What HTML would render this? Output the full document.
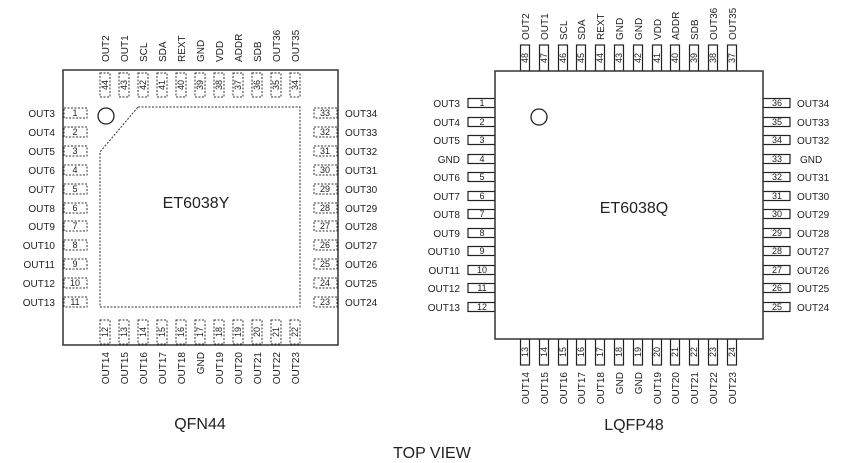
<!DOCTYPE html>
<html><head><meta charset="utf-8"><style>
html,body{margin:0;padding:0;background:#fff;}
svg{display:block;font-family:"Liberation Sans",Arial,sans-serif;}
.l{font-size:10px;fill:#222;}
.n{font-size:9px;fill:#222;}
.d{fill:none;stroke:#333;stroke-width:1;stroke-dasharray:2,1.5;}
.s{fill:#fff;stroke:#222;stroke-width:1.2;}
</style></head><body>
<svg width="854" height="463" viewBox="0 0 854 463" xmlns="http://www.w3.org/2000/svg">
<!-- QFN44 -->
<rect x="63" y="70" width="275" height="275" fill="#fff" stroke="#333" stroke-width="1.5"/>
<path class="d" d="M138 107 L300 107 L300 307 L100 307 L100 152 Z"/>
<circle cx="106" cy="116" r="8" fill="none" stroke="#222" stroke-width="1.3"/>
<text x="196" y="208" font-size="16" text-anchor="middle" fill="#222">ET6038Y</text>
<g class="l" text-anchor="end">
<text x="55" y="117">OUT3</text><text x="55" y="136">OUT4</text><text x="55" y="155">OUT5</text><text x="55" y="174">OUT6</text><text x="55" y="193">OUT7</text><text x="55" y="212">OUT8</text><text x="55" y="230">OUT9</text><text x="55" y="249">OUT10</text><text x="55" y="268">OUT11</text><text x="55" y="287">OUT12</text><text x="55" y="306">OUT13</text>
</g>
<g class="d">
<rect x="64" y="108" width="23" height="10"/><rect x="64" y="127" width="23" height="10"/><rect x="64" y="146" width="23" height="10"/><rect x="64" y="165" width="23" height="10"/><rect x="64" y="184" width="23" height="10"/><rect x="64" y="203" width="23" height="10"/><rect x="64" y="221" width="23" height="10"/><rect x="64" y="240" width="23" height="10"/><rect x="64" y="259" width="23" height="10"/><rect x="64" y="278" width="23" height="10"/><rect x="64" y="297" width="23" height="10"/>
<rect x="314" y="108" width="23" height="10"/><rect x="314" y="127" width="23" height="10"/><rect x="314" y="146" width="23" height="10"/><rect x="314" y="165" width="23" height="10"/><rect x="314" y="184" width="23" height="10"/><rect x="314" y="203" width="23" height="10"/><rect x="314" y="221" width="23" height="10"/><rect x="314" y="240" width="23" height="10"/><rect x="314" y="259" width="23" height="10"/><rect x="314" y="278" width="23" height="10"/><rect x="314" y="297" width="23" height="10"/>
<rect x="100" y="73" width="10" height="24"/><rect x="119" y="73" width="10" height="24"/><rect x="138" y="73" width="10" height="24"/><rect x="157" y="73" width="10" height="24"/><rect x="176" y="73" width="10" height="24"/><rect x="195" y="73" width="10" height="24"/><rect x="214" y="73" width="10" height="24"/><rect x="233" y="73" width="10" height="24"/><rect x="252" y="73" width="10" height="24"/><rect x="271" y="73" width="10" height="24"/><rect x="290" y="73" width="10" height="24"/>
<rect x="100" y="320" width="10" height="24"/><rect x="119" y="320" width="10" height="24"/><rect x="138" y="320" width="10" height="24"/><rect x="157" y="320" width="10" height="24"/><rect x="176" y="320" width="10" height="24"/><rect x="195" y="320" width="10" height="24"/><rect x="214" y="320" width="10" height="24"/><rect x="233" y="320" width="10" height="24"/><rect x="252" y="320" width="10" height="24"/><rect x="271" y="320" width="10" height="24"/><rect x="290" y="320" width="10" height="24"/>
</g>
<g class="n" text-anchor="middle">
<text x="75" y="116">1</text><text x="75" y="135">2</text><text x="75" y="154">3</text><text x="75" y="173">4</text><text x="75" y="192">5</text><text x="75" y="211">6</text><text x="75" y="229">7</text><text x="75" y="248">8</text><text x="75" y="267">9</text><text x="75" y="286">10</text><text x="75" y="305">11</text>
<text x="325" y="116">33</text><text x="325" y="135">32</text><text x="325" y="154">31</text><text x="325" y="173">30</text><text x="325" y="192">29</text><text x="325" y="211">28</text><text x="325" y="229">27</text><text x="325" y="248">26</text><text x="325" y="267">25</text><text x="325" y="286">24</text><text x="325" y="305">23</text>
<text transform="translate(108,85) rotate(-90)">44</text><text transform="translate(127,85) rotate(-90)">43</text><text transform="translate(146,85) rotate(-90)">42</text><text transform="translate(165,85) rotate(-90)">41</text><text transform="translate(184,85) rotate(-90)">40</text><text transform="translate(203,85) rotate(-90)">39</text><text transform="translate(222,85) rotate(-90)">38</text><text transform="translate(241,85) rotate(-90)">37</text><text transform="translate(260,85) rotate(-90)">36</text><text transform="translate(279,85) rotate(-90)">35</text><text transform="translate(298,85) rotate(-90)">34</text>
<text transform="translate(108,332) rotate(-90)">12</text><text transform="translate(127,332) rotate(-90)">13</text><text transform="translate(146,332) rotate(-90)">14</text><text transform="translate(165,332) rotate(-90)">15</text><text transform="translate(184,332) rotate(-90)">16</text><text transform="translate(203,332) rotate(-90)">17</text><text transform="translate(222,332) rotate(-90)">18</text><text transform="translate(241,332) rotate(-90)">19</text><text transform="translate(260,332) rotate(-90)">20</text><text transform="translate(279,332) rotate(-90)">21</text><text transform="translate(298,332) rotate(-90)">22</text>
</g>
<g class="l">
<text x="345" y="117">OUT34</text><text x="345" y="136">OUT33</text><text x="345" y="155">OUT32</text><text x="345" y="174">OUT31</text><text x="345" y="193">OUT30</text><text x="345" y="212">OUT29</text><text x="345" y="230">OUT28</text><text x="345" y="249">OUT27</text><text x="345" y="268">OUT26</text><text x="345" y="287">OUT25</text><text x="345" y="306">OUT24</text>
<text transform="translate(109,62) rotate(-90)">OUT2</text><text transform="translate(128,62) rotate(-90)">OUT1</text><text transform="translate(147,62) rotate(-90)">SCL</text><text transform="translate(166,62) rotate(-90)">SDA</text><text transform="translate(185,62) rotate(-90)">REXT</text><text transform="translate(204,62) rotate(-90)">GND</text><text transform="translate(223,62) rotate(-90)">VDD</text><text transform="translate(242,62) rotate(-90)">ADDR</text><text transform="translate(261,62) rotate(-90)">SDB</text><text transform="translate(280,62) rotate(-90)">OUT36</text><text transform="translate(299,62) rotate(-90)">OUT35</text>
</g>
<g class="l" text-anchor="end">
<text transform="translate(109,352) rotate(-90)">OUT14</text><text transform="translate(128,352) rotate(-90)">OUT15</text><text transform="translate(147,352) rotate(-90)">OUT16</text><text transform="translate(166,352) rotate(-90)">OUT17</text><text transform="translate(185,352) rotate(-90)">OUT18</text><text transform="translate(204,352) rotate(-90)">GND</text><text transform="translate(223,352) rotate(-90)">OUT19</text><text transform="translate(242,352) rotate(-90)">OUT20</text><text transform="translate(261,352) rotate(-90)">OUT21</text><text transform="translate(280,352) rotate(-90)">OUT22</text><text transform="translate(299,352) rotate(-90)">OUT23</text>
</g>
<text x="200" y="429" font-size="16" text-anchor="middle" fill="#222">QFN44</text>

<!-- LQFP48 -->
<g class="s">
<rect x="468" y="98.5" width="27" height="9"/><rect x="468" y="117.5" width="27" height="9"/><rect x="468" y="135.5" width="27" height="9"/><rect x="468" y="154.5" width="27" height="9"/><rect x="468" y="172.5" width="27" height="9"/><rect x="468" y="191.5" width="27" height="9"/><rect x="468" y="209.5" width="27" height="9"/><rect x="468" y="228.5" width="27" height="9"/><rect x="468" y="246.5" width="27" height="9"/><rect x="468" y="265.5" width="27" height="9"/><rect x="468" y="283.5" width="27" height="9"/><rect x="468" y="302.5" width="27" height="9"/>
<rect x="763" y="98.5" width="27" height="9"/><rect x="763" y="117.5" width="27" height="9"/><rect x="763" y="135.5" width="27" height="9"/><rect x="763" y="154.5" width="27" height="9"/><rect x="763" y="172.5" width="27" height="9"/><rect x="763" y="191.5" width="27" height="9"/><rect x="763" y="209.5" width="27" height="9"/><rect x="763" y="228.5" width="27" height="9"/><rect x="763" y="246.5" width="27" height="9"/><rect x="763" y="265.5" width="27" height="9"/><rect x="763" y="283.5" width="27" height="9"/><rect x="763" y="302.5" width="27" height="9"/>
<rect x="520.5" y="45" width="9" height="26"/><rect x="539.5" y="45" width="9" height="26"/><rect x="558.5" y="45" width="9" height="26"/><rect x="576.5" y="45" width="9" height="26"/><rect x="595.5" y="45" width="9" height="26"/><rect x="614.5" y="45" width="9" height="26"/><rect x="633.5" y="45" width="9" height="26"/><rect x="652.5" y="45" width="9" height="26"/><rect x="670.5" y="45" width="9" height="26"/><rect x="689.5" y="45" width="9" height="26"/><rect x="708.5" y="45" width="9" height="26"/><rect x="727.5" y="45" width="9" height="26"/>
<rect x="520.5" y="339" width="9" height="26"/><rect x="539.5" y="339" width="9" height="26"/><rect x="558.5" y="339" width="9" height="26"/><rect x="576.5" y="339" width="9" height="26"/><rect x="595.5" y="339" width="9" height="26"/><rect x="614.5" y="339" width="9" height="26"/><rect x="633.5" y="339" width="9" height="26"/><rect x="652.5" y="339" width="9" height="26"/><rect x="670.5" y="339" width="9" height="26"/><rect x="689.5" y="339" width="9" height="26"/><rect x="708.5" y="339" width="9" height="26"/><rect x="727.5" y="339" width="9" height="26"/>
</g>
<rect x="495" y="71" width="268" height="268" fill="#fff" stroke="#333" stroke-width="1.5"/>
<circle cx="539" cy="117" r="8" fill="none" stroke="#222" stroke-width="1.3"/>
<text x="634" y="213" font-size="16" text-anchor="middle" fill="#222">ET6038Q</text>
<g class="n" text-anchor="middle">
<text x="482" y="106">1</text><text x="482" y="125">2</text><text x="482" y="143">3</text><text x="482" y="162">4</text><text x="482" y="180">5</text><text x="482" y="199">6</text><text x="482" y="217">7</text><text x="482" y="236">8</text><text x="482" y="254">9</text><text x="482" y="273">10</text><text x="482" y="291">11</text><text x="482" y="310">12</text>
<text x="777" y="106">36</text><text x="777" y="125">35</text><text x="777" y="143">34</text><text x="777" y="162">33</text><text x="777" y="180">32</text><text x="777" y="199">31</text><text x="777" y="217">30</text><text x="777" y="236">29</text><text x="777" y="254">28</text><text x="777" y="273">27</text><text x="777" y="291">26</text><text x="777" y="310">25</text>
<text transform="translate(528,58) rotate(-90)">48</text><text transform="translate(547,58) rotate(-90)">47</text><text transform="translate(566,58) rotate(-90)">46</text><text transform="translate(584,58) rotate(-90)">45</text><text transform="translate(603,58) rotate(-90)">44</text><text transform="translate(622,58) rotate(-90)">43</text><text transform="translate(641,58) rotate(-90)">42</text><text transform="translate(660,58) rotate(-90)">41</text><text transform="translate(678,58) rotate(-90)">40</text><text transform="translate(697,58) rotate(-90)">39</text><text transform="translate(716,58) rotate(-90)">38</text><text transform="translate(735,58) rotate(-90)">37</text>
<text transform="translate(528,352) rotate(-90)">13</text><text transform="translate(547,352) rotate(-90)">14</text><text transform="translate(566,352) rotate(-90)">15</text><text transform="translate(584,352) rotate(-90)">16</text><text transform="translate(603,352) rotate(-90)">17</text><text transform="translate(622,352) rotate(-90)">18</text><text transform="translate(641,352) rotate(-90)">19</text><text transform="translate(660,352) rotate(-90)">20</text><text transform="translate(678,352) rotate(-90)">21</text><text transform="translate(697,352) rotate(-90)">22</text><text transform="translate(716,352) rotate(-90)">23</text><text transform="translate(735,352) rotate(-90)">24</text>
</g>
<g class="l" text-anchor="end">
<text x="460" y="107">OUT3</text><text x="460" y="126">OUT4</text><text x="460" y="144">OUT5</text><text x="460" y="163">GND</text><text x="460" y="181">OUT6</text><text x="460" y="200">OUT7</text><text x="460" y="218">OUT8</text><text x="460" y="237">OUT9</text><text x="460" y="255">OUT10</text><text x="460" y="274">OUT11</text><text x="460" y="292">OUT12</text><text x="460" y="311">OUT13</text>
<text transform="translate(529,372) rotate(-90)">OUT14</text><text transform="translate(548,372) rotate(-90)">OUT15</text><text transform="translate(567,372) rotate(-90)">OUT16</text><text transform="translate(585,372) rotate(-90)">OUT17</text><text transform="translate(604,372) rotate(-90)">OUT18</text><text transform="translate(623,372) rotate(-90)">GND</text><text transform="translate(642,372) rotate(-90)">GND</text><text transform="translate(661,372) rotate(-90)">OUT19</text><text transform="translate(679,372) rotate(-90)">OUT20</text><text transform="translate(698,372) rotate(-90)">OUT21</text><text transform="translate(717,372) rotate(-90)">OUT22</text><text transform="translate(736,372) rotate(-90)">OUT23</text>
</g>
<g class="l">
<text x="797" y="107">OUT34</text><text x="797" y="126">OUT33</text><text x="797" y="144">OUT32</text><text x="800" y="163">GND</text><text x="797" y="181">OUT31</text><text x="797" y="200">OUT30</text><text x="797" y="218">OUT29</text><text x="797" y="237">OUT28</text><text x="797" y="255">OUT27</text><text x="797" y="274">OUT26</text><text x="797" y="292">OUT25</text><text x="797" y="311">OUT24</text>
<text transform="translate(529,40) rotate(-90)">OUT2</text><text transform="translate(548,40) rotate(-90)">OUT1</text><text transform="translate(567,40) rotate(-90)">SCL</text><text transform="translate(585,40) rotate(-90)">SDA</text><text transform="translate(604,40) rotate(-90)">REXT</text><text transform="translate(623,40) rotate(-90)">GND</text><text transform="translate(642,40) rotate(-90)">GND</text><text transform="translate(661,40) rotate(-90)">VDD</text><text transform="translate(679,40) rotate(-90)">ADDR</text><text transform="translate(698,40) rotate(-90)">SDB</text><text transform="translate(717,40) rotate(-90)">OUT36</text><text transform="translate(736,40) rotate(-90)">OUT35</text>
</g>
<text x="634" y="430" font-size="16" text-anchor="middle" fill="#222">LQFP48</text>
<text x="432" y="458" font-size="16" text-anchor="middle" fill="#222">TOP VIEW</text>
</svg>
</body></html>
